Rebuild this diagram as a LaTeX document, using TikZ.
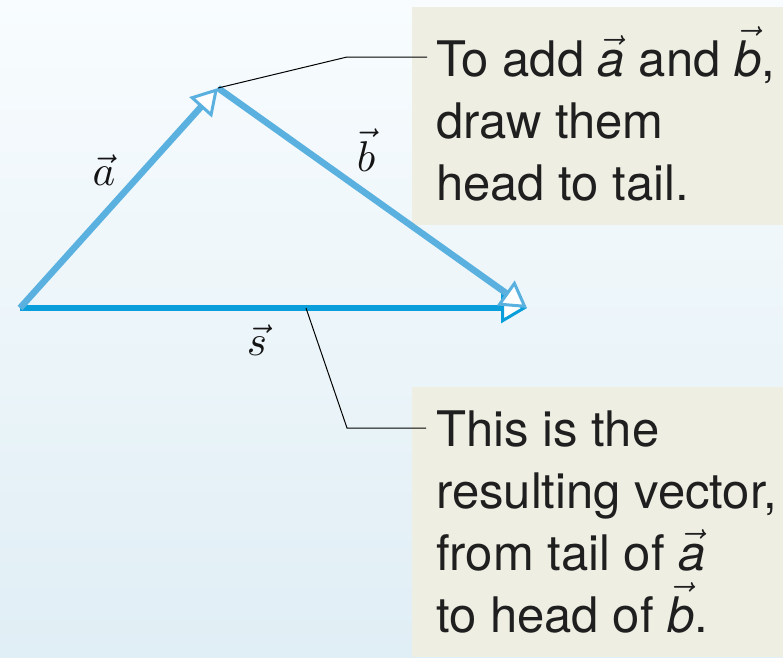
\RequirePackage{fix-cm}
\documentclass[tikz,border=0pt]{standalone}
\usepackage{fontspec}
\setsansfont{TeX Gyre Heros}
\usetikzlibrary{arrows.meta}
\definecolor{vecA}{HTML}{5AB1E0}
\definecolor{vecS}{HTML}{0A9FDA}
\definecolor{boxbg}{HTML}{EEEEE3}
\definecolor{bgtop}{HTML}{F8FCFE}
\definecolor{bgbot}{HTML}{E0EEF5}
\newcommand{\svec}[1]{\ensuremath{\vec{\mbox{\itshape #1}}}}
\newcommand{\biglabel}[1]{\scalebox{4.3}{$\vec{#1}$}}
\tikzset{
  headtip/.tip={Triangle[length=26pt, width=30pt, line width=3pt, fill=white]},
  vecline/.style={line width=6.5pt, -headtip},
  callout/.style={draw=black, line width=1pt},
  boxstyle/.style={fill=boxbg, draw=none, anchor=north west, inner sep=0pt},
  boxtext/.style={font=\sffamily\fontsize{49}{62}\selectfont, align=left, anchor=base west, inner sep=0pt, text=black!88},
  veclabel/.style={inner sep=0pt, text=black!92}
}
\begin{document}
\begin{tikzpicture}[x=1pt, y=-1pt]
\useasboundingbox (0,0) rectangle (783,657);
\shade[top color=bgtop, bottom color=bgbot] (0,0) rectangle (783,657);
% boxes
\node[boxstyle, minimum width=371pt, minimum height=218pt] (topbox) at (412,7) {};
\node[boxstyle, minimum width=371pt, minimum height=270pt] (botbox) at (412,387) {};
\node[boxtext] (toptext) at (436,200) {To add \svec{a} and \svec{b},\\draw them\\head to tail.};
\node[boxtext] (bottext) at (436,632) {This is the\\resulting vector,\\from tail of \svec{a}\\to head of \svec{b}.};
% vertices
\coordinate (O) at (20,308);
\coordinate (A) at (218,88);
\coordinate (B) at (527,308);
\draw[line width=6pt, draw=vecS, headtip-] (B) -- (O);
\draw[vecline, draw=vecA] (O) -- (A);
\draw[vecline, draw=vecA] (A) -- (B);
% labels
\node[veclabel] (la) at (104,170) {\biglabel{a}};
\node[veclabel] (lb) at (366,150) {\biglabel{b}};
\node[veclabel] (ls) at (257,340) {\biglabel{s}};
% callouts
\coordinate (k1) at (347,57);
\coordinate (e1) at (427,57);
\coordinate (s1) at (306,308);
\coordinate (k2) at (347,428);
\coordinate (e2) at (426,428);
\draw[callout] (A) -- (k1) -- (e1);
\draw[callout] (s1) -- (k2) -- (e2);
\end{tikzpicture}
\end{document}
